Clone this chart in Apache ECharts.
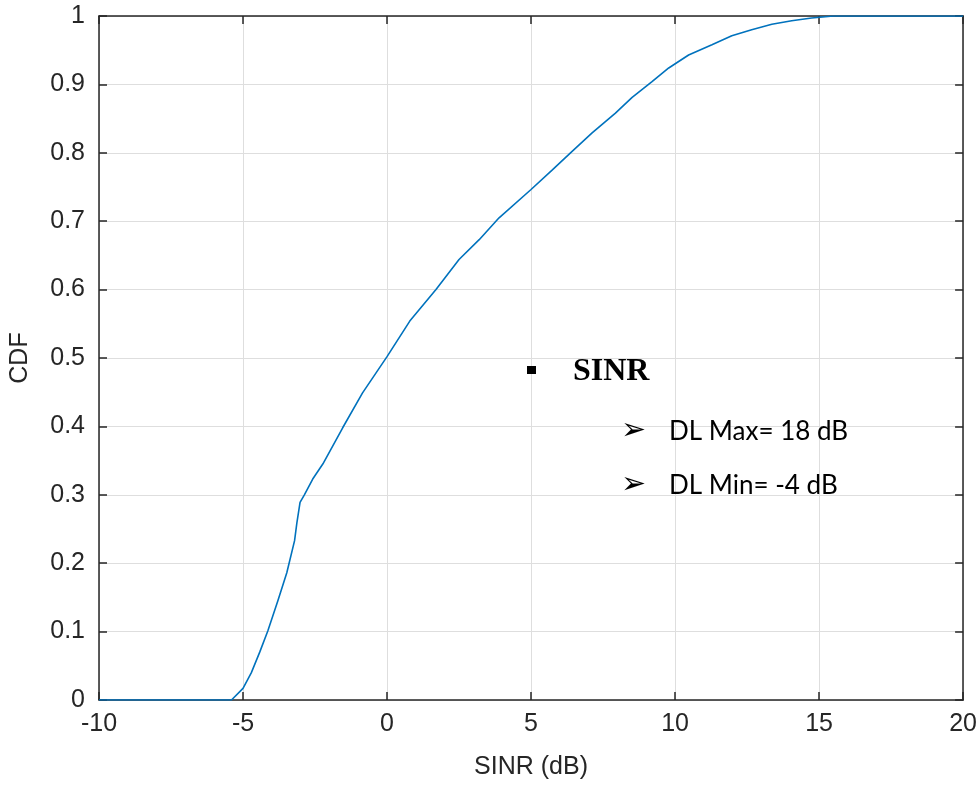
<!DOCTYPE html>
<html>
<head>
<meta charset="utf-8">
<title>SINR CDF</title>
<script src="https://cdn.jsdelivr.net/npm/echarts@6/dist/echarts.min.js"></script>
<style>
  html, body { margin: 0; padding: 0; background: #ffffff; }
  #chart { width: 980px; height: 785px; }
</style>
</head>
<body>
<div id="chart"></div>
<script>
// SINR samples (dB) and the empirical CDF at each of them
const sinrDb = [-10, -5.4, -5.0, -4.71, -4.42, -4.14, -3.79, -3.48, -3.21, -3.13, -3.02,
  -2.87, -2.58, -2.23, -1.54, -0.85, 0, 0.79, 1.7, 2.5, 3.2, 3.89, 4.99, 5.74, 6.37,
  7.12, 7.93, 8.51, 9.2, 9.78, 10.47, 11.28, 11.97, 12.66, 13.36, 14.05, 14.74, 15.5, 20];
const cdf = [0, 0, 0.017, 0.040, 0.070, 0.101, 0.145, 0.186, 0.233, 0.259, 0.289,
  0.300, 0.323, 0.345, 0.398, 0.449, 0.502, 0.554, 0.600, 0.644, 0.673, 0.705, 0.746, 0.775, 0.800,
  0.829, 0.858, 0.881, 0.904, 0.924, 0.943, 0.958, 0.971, 0.980, 0.988, 0.993, 0.997, 1.0, 1.0];

const xTicks = [-10, -5, 0, 5, 10, 15, 20];
const yTicks = [0, 0.1, 0.2, 0.3, 0.4, 0.5, 0.6, 0.7, 0.8, 0.9, 1];

// Annotation lines
const noteTitle = 'SINR';
const noteLines = ['DL Max= 18 dB', 'DL Min= -4 dB'];

const axisColor = '#262626';
const labelFont = { color: '#262626', fontFamily: 'Liberation Sans, Arial, sans-serif', fontSize: 25 };

const chart = echarts.init(document.getElementById('chart'), null, { renderer: 'canvas' });

const tickCommon = {
  show: true, inside: true, length: 8,
  lineStyle: { color: axisColor, width: 1.5 }
};

chart.setOption({
  animation: false,
  backgroundColor: '#ffffff',
  grid: { left: 99, right: 15, top: 16, bottom: 84, containLabel: false },
  xAxis: [
    {
      type: 'value', min: -10, max: 20, interval: 5, position: 'bottom',
      name: 'SINR (dB)', nameLocation: 'middle', nameGap: 55,
      nameTextStyle: labelFont,
      axisLine: { show: true, onZero: false, lineStyle: { color: axisColor, width: 1.5 } },
      axisTick: tickCommon,
      axisLabel: Object.assign({ margin: 12, formatter: v => xTicks.includes(v) ? String(v) : '' }, labelFont),
      splitLine: { show: true, lineStyle: { color: '#dedede', width: 1 } }
    },
    {
      type: 'value', min: -10, max: 20, interval: 5, position: 'top',
      axisLine: { show: true, onZero: false, lineStyle: { color: axisColor, width: 1.5 } },
      axisTick: tickCommon,
      axisLabel: { show: false },
      splitLine: { show: false }
    }
  ],
  yAxis: [
    {
      type: 'value', min: 0, max: 1, interval: 0.1, position: 'left',
      name: 'CDF', nameLocation: 'middle', nameGap: 66, nameRotate: 90,
      nameTextStyle: labelFont,
      axisLine: { show: true, onZero: false, lineStyle: { color: axisColor, width: 1.5 } },
      axisTick: tickCommon,
      axisLabel: Object.assign({
        margin: 14,
        formatter: v => {
          const r = Math.round(v * 10) / 10;
          return yTicks.includes(r) ? String(r) : '';
        }
      }, labelFont),
      splitLine: { show: true, lineStyle: { color: '#dedede', width: 1 } }
    },
    {
      type: 'value', min: 0, max: 1, interval: 0.1, position: 'right',
      axisLine: { show: true, onZero: false, lineStyle: { color: axisColor, width: 1.5 } },
      axisTick: tickCommon,
      axisLabel: { show: false },
      splitLine: { show: false }
    }
  ],
  series: [
    {
      type: 'line',
      xAxisIndex: 0, yAxisIndex: 0,
      data: sinrDb.map((x, i) => [x, cdf[i]]),
      showSymbol: false,
      smooth: false,
      lineStyle: { color: '#0072BD', width: 1.6 },
      z: 3
    }
  ],
  graphic: [
    {
      type: 'rect', x: 527, y: 366, z: 100,
      shape: { x: 0, y: 0, width: 9, height: 8 },
      style: { fill: '#000000' }
    },
    {
      type: 'text', x: 573, y: 372, z: 100,
      style: {
        text: noteTitle, fill: '#000000', verticalAlign: 'middle',
        font: 'bold 32px "Liberation Serif", "DejaVu Serif", serif'
      }
    },
    {
      type: 'text', x: 621, y: 431, z: 100,
      style: { text: '\u27A2', fill: '#000000', verticalAlign: 'middle', font: '30px "DejaVu Sans", sans-serif' }
    },
    {
      type: 'text', x: 669, y: 432, z: 100,
      style: { text: noteLines[0], fill: '#000000', verticalAlign: 'middle', font: '26px Lato, "Open Sans", sans-serif' }
    },
    {
      type: 'text', x: 621, y: 485, z: 100,
      style: { text: '\u27A2', fill: '#000000', verticalAlign: 'middle', font: '30px "DejaVu Sans", sans-serif' }
    },
    {
      type: 'text', x: 669, y: 486, z: 100,
      style: { text: noteLines[1], fill: '#000000', verticalAlign: 'middle', font: '26px Lato, "Open Sans", sans-serif' }
    }
  ]
});
</script>
</body>
</html>
